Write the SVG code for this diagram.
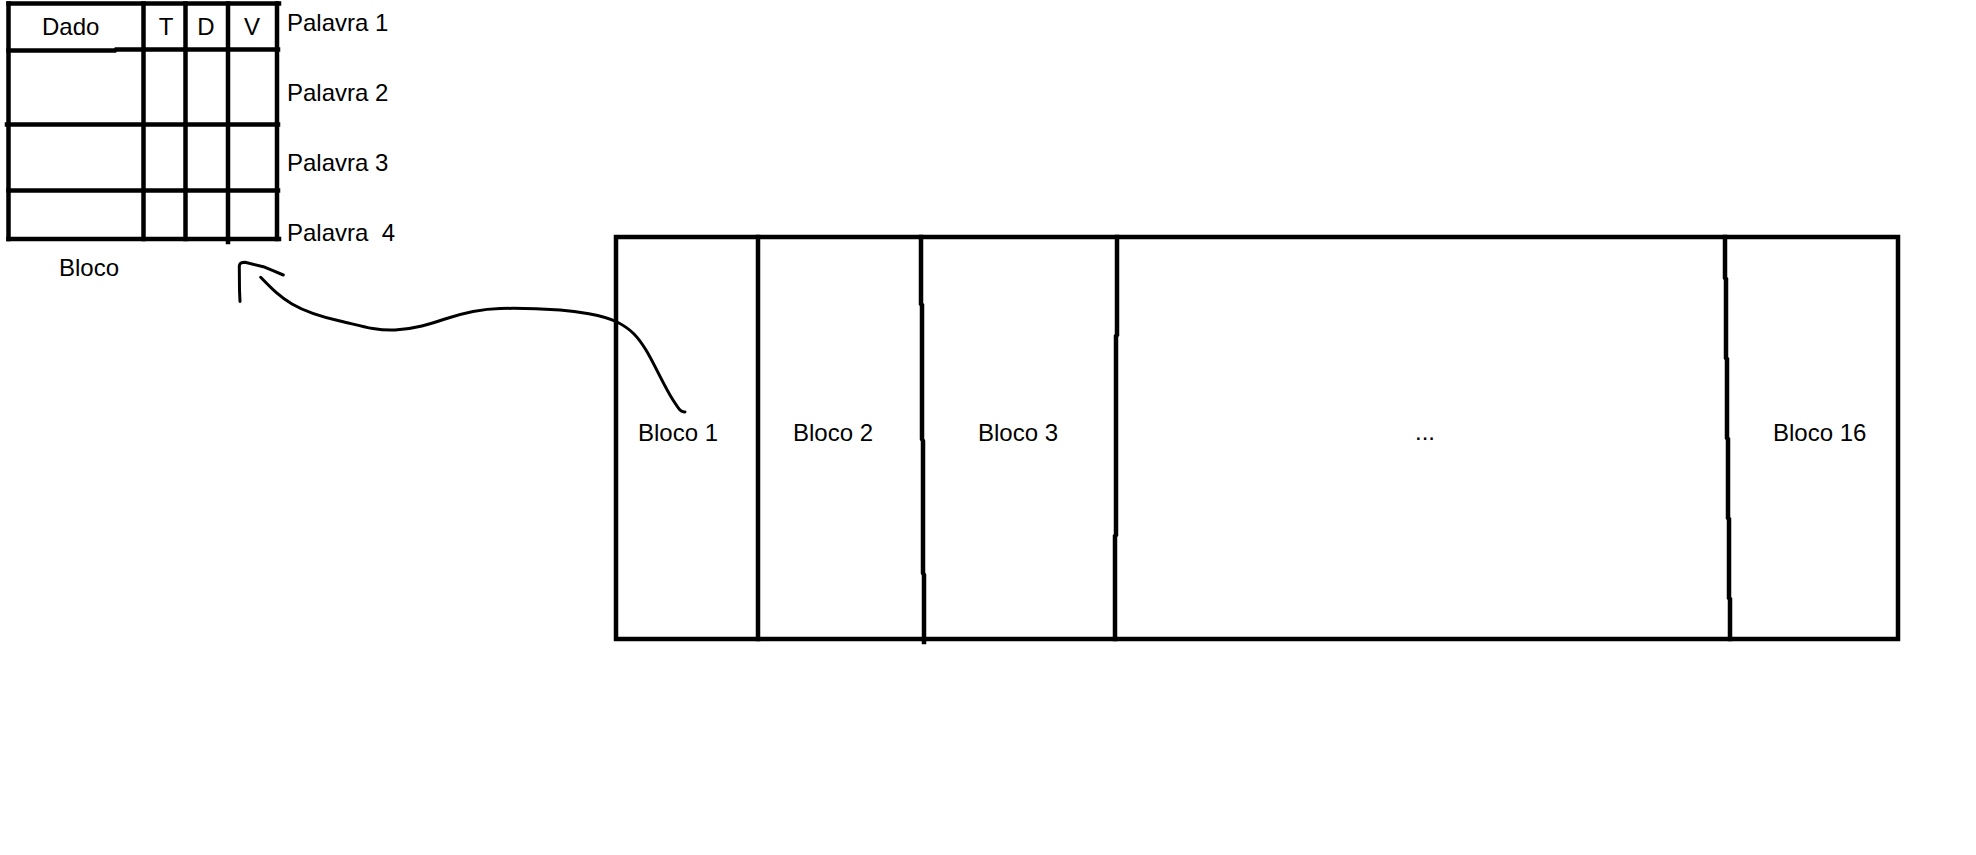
<svg xmlns="http://www.w3.org/2000/svg" width="1976" height="855" viewBox="0 0 1976 855">
<style>
  .ln { fill: none; stroke: #000; stroke-width: 4.5; stroke-linecap: square; }
  .cv { fill: none; stroke: #000; stroke-width: 3; stroke-linecap: round; stroke-linejoin: round; }
  text { font-family: "Liberation Sans", Arial, sans-serif; font-size: 24px; fill: #000; white-space: pre; }
</style>
<rect x="0" y="0" width="1976" height="855" fill="#fff"/>

<g id="bloco-table">
  <line class="ln" x1="8.5" y1="3.5" x2="279" y2="3.5"/>
  <line class="ln" x1="8.5" y1="3.5" x2="8.5" y2="239"/>
  <line class="ln" x1="277" y1="3.5" x2="277" y2="239"/>
  <line class="ln" x1="8.5" y1="239" x2="279" y2="239"/>
  <polyline class="ln" points="8.5,50.5 115,50.5 116,49.5 278,49.5"/>
  <line class="ln" x1="7" y1="124.5" x2="278" y2="124.5"/>
  <line class="ln" x1="8.5" y1="190.5" x2="278" y2="190.5"/>
  <line class="ln" x1="143.5" y1="3.5" x2="143.5" y2="239"/>
  <line class="ln" x1="185.5" y1="3.5" x2="185.5" y2="239"/>
  <line class="ln" x1="228" y1="3.5" x2="228" y2="242"/>
  <text x="42" y="35">Dado</text>
  <text x="166" y="35" text-anchor="middle">T</text>
  <text x="206" y="35" text-anchor="middle">D</text>
  <text x="252" y="35" text-anchor="middle">V</text>
  <text x="287" y="31">Palavra 1</text>
  <text x="287" y="100.5">Palavra 2</text>
  <text x="287" y="170.5">Palavra 3</text>
  <text x="287" y="240.5">Palavra  4</text>
  <text x="59" y="276">Bloco</text>
</g>

<g id="memoria">
  <rect class="ln" x="616" y="237" width="1282" height="402"/>
  <line class="ln" x1="758" y1="237" x2="758" y2="639"/>
  <polyline class="ln" points="921,237 921,304 922,305 922,439 923,441 923,573 924,575 924,642"/>
  <polyline class="ln" points="1117,237 1117,335 1116,336 1116,535 1115,536 1115,639"/>
  <polyline class="ln" points="1725,237 1725,278 1726,279 1726,358 1727,359 1727,438 1728,439 1728,518 1729,519 1729,598 1730,599 1730,639"/>
</g>

<g id="bloco-1"><text x="638" y="441">Bloco 1</text></g>
<g id="bloco-2"><text x="793" y="441">Bloco 2</text></g>
<g id="bloco-3"><text x="978" y="441">Bloco 3</text></g>
<g id="reticencias"><text x="1415" y="440">...</text></g>
<g id="bloco-16"><text x="1773" y="441">Bloco 16</text></g>

<g id="connectors">
  <path class="cv" d="M240,301.5 L239.5,290 L239.3,266 Q239.5,262.3 245,262.3 L263.3,266.7 L273,270.7 L283.3,275"/>
  <path class="cv" d="M260.7,277.3 C272,289 280,297 292,304 S322,317 340,321 S375,331 395,330 S430,324 445,319 S478,309 500,308.5 S545,309 560,310 S603,315 617,322 S638,337 646,350 S664,386 673,400 S681,411 685,412"/>
</g>
</svg>
